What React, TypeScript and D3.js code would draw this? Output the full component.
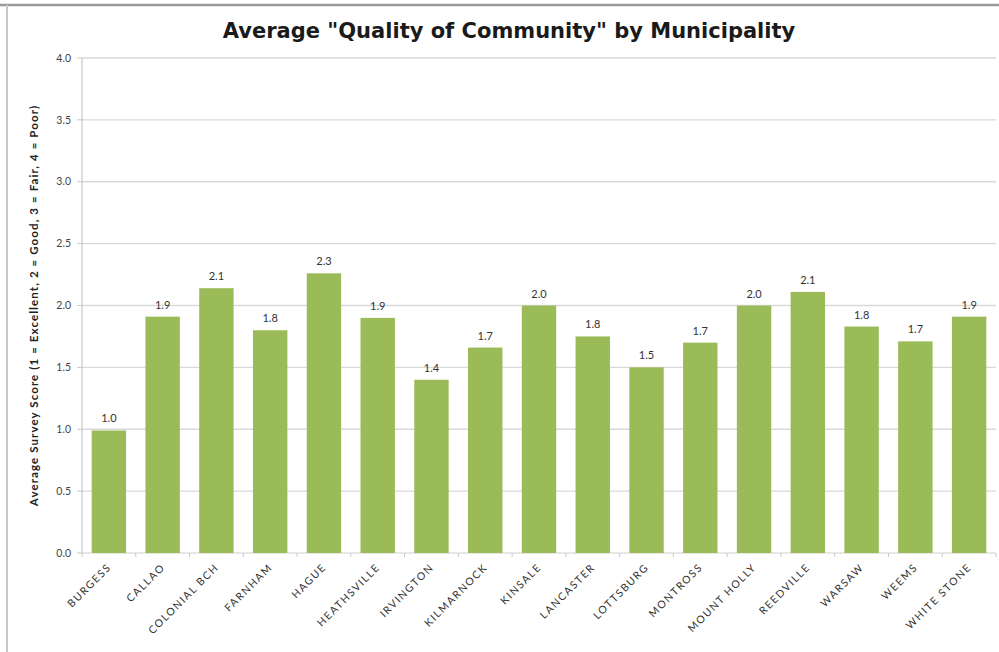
import React from "react";
import * as d3 from "d3";

const municipalities = [
  "BURGESS", "CALLAO", "COLONIAL BCH", "FARNHAM", "HAGUE", "HEATHSVILLE",
  "IRVINGTON", "KILMARNOCK", "KINSALE", "LANCASTER", "LOTTSBURG", "MONTROSS",
  "MOUNT HOLLY", "REEDVILLE", "WARSAW", "WEEMS", "WHITE STONE",
];
const scores = [0.99, 1.91, 2.14, 1.8, 2.26, 1.9, 1.4, 1.66, 2.0, 1.75, 1.5, 1.7, 2.0, 2.11, 1.83, 1.71, 1.91];
const yTicks = [0, 0.5, 1, 1.5, 2, 2.5, 3, 3.5, 4];
const title = "Average \"Quality of Community\" by Municipality";
const yTitle = "Average Survey Score (1 = Excellent, 2 = Good, 3 = Fair, 4 = Poor)";

const W = 999, H = 652;
const left = 82, right = 996, top = 58, bottom = 553;
const font = "'Lato', 'Open Sans', sans-serif";

export default function App() {
  const x = d3.scaleBand<string>().domain(municipalities).range([left, right]).paddingInner(0.36).paddingOuter(0.18);
  const y = d3.scaleLinear().domain([0, 4]).range([bottom, top]);
  const step = x.step();
  const bounds = d3.range(municipalities.length + 1).map((i) => left + i * step);
  return (
    <svg width={W} height={H} style={{ position: "absolute", left: 0, top: 0, background: "#fff" }}>
      <rect x={0} y={0} width={W} height={H} fill="#fff" />
      <line x1={0} x2={W} y1={5} y2={5} stroke="#9a9a9a" strokeWidth={2.5} />
      <line x1={7} x2={7} y1={5} y2={H} stroke="#c8c8c8" strokeWidth={2} />
      <text x={509} y={38} textAnchor="middle" fontFamily="'DejaVu Sans', sans-serif" fontWeight="bold" fontSize={21} fill="#1a1a1a">{title}</text>
      {yTicks.map((t) => (
        <g key={t}>
          {t > 0 && <line x1={left} x2={right} y1={y(t)} y2={y(t)} stroke="#d9d9d9" strokeWidth={1.3} />}
          <line x1={left - 5} x2={left} y1={y(t)} y2={y(t)} stroke="#c8c8c8" />
          <text x={71} y={y(t)} dy="0.35em" textAnchor="end" fontFamily={font} fontSize={10.5} fill="#444">{t.toFixed(1)}</text>
        </g>
      ))}
      <line x1={left} x2={left} y1={top} y2={bottom} stroke="#c8c8c8" strokeWidth={1.2} />
      <line x1={left} x2={right} y1={bottom} y2={bottom} stroke="#d0d0d0" strokeWidth={1.2} />
      {bounds.map((b, i) => (
        <line key={i} x1={b} x2={b} y1={bottom} y2={bottom + 4} stroke="#c8c8c8" />
      ))}
      <text transform={`translate(38,${(top + bottom) / 2}) rotate(-90)`} textAnchor="middle" fontFamily={font} fontWeight="bold" fontSize={11.5} letterSpacing={1.1} fill="#222">{yTitle}</text>
      {municipalities.map((m, i) => {
        const v = scores[i];
        const bx = x(m)!;
        const cx = bx + x.bandwidth() / 2;
        return (
          <g key={m}>
            <rect x={bx} y={y(v)} width={x.bandwidth()} height={bottom - y(v)} fill="#9bbb59" />
            <text x={cx} y={y(v) - 8} textAnchor="middle" fontFamily={font} fontSize={11} fill="#333">{v.toFixed(1)}</text>
            <text transform={`translate(${cx + 3},${bottom + 15}) rotate(-45)`} textAnchor="end" fontFamily={font} fontSize={10.5} letterSpacing={1.5} fill="#333">{m}</text>
          </g>
        );
      })}
    </svg>
  );
}
